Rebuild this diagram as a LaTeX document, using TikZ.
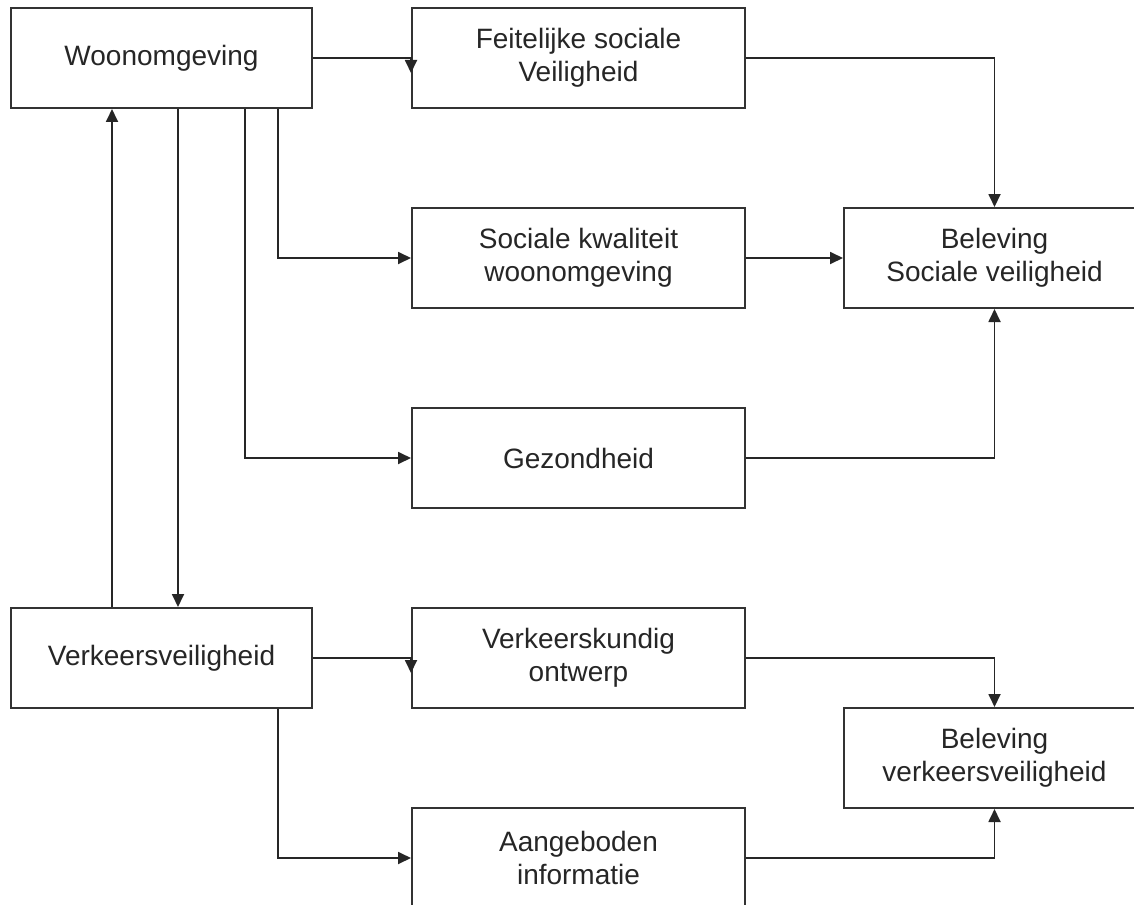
\documentclass[tikz,border=0pt]{standalone}
\usepackage{fontspec}
\setmainfont{Liberation Sans}
\usetikzlibrary{arrows.meta}
\begin{document}
\begin{tikzpicture}[x=1pt,y=-1pt,
  box/.style={draw=black!80, line width=2pt, text=black!85, align=center,
    inner sep=0pt, minimum height=100pt, font=\fontsize{28}{33}\selectfont},
  narrow/.style={box, minimum width=301pt},
  wide/.style={box, minimum width=333pt},
  conn/.style={draw=black!85, line width=1.8pt, -{Triangle[length=13pt,width=12pt]}}]
\clip (0,0) rectangle (1134,904);
\fill[white] (0,0) rectangle (1134,904);

\node[narrow] (wo) at (161.5,58) {Woonomgeving};
\node[wide] (feit) at (578.5,58) {Feitelijke sociale\\Veiligheid};
\node[wide] (soc) at (578.5,258) {Sociale kwaliteit\\woonomgeving};
\node[wide] (gez) at (578.5,458) {Gezondheid};
\node[narrow] (belS) at (994.5,258) {Beleving\\Sociale veiligheid};
\node[narrow] (verk) at (161.5,658) {Verkeersveiligheid};
\node[wide] (vkont) at (578.5,658) {Verkeerskundig\\ontwerp};
\node[narrow] (belV) at (994.5,758) {Beleving\\verkeersveiligheid};
\node[wide] (aang) at (578.5,858) {Aangeboden\\informatie};

% Woonomgeving -> Feitelijke (arrow drawn downwards at the edge)
\draw[conn] (wo.east) -- (wo.east -| feit.west) -- ++(0,15);
% Feitelijke -> Beleving Sociale
\draw[conn] (feit.east) -| (belS.north);
% Woonomgeving -> Sociale kwaliteit
\draw[conn] (wo.south -| 278,0) |- (soc.west);
% Sociale kwaliteit -> Beleving
\draw[conn] (soc.east) -- (belS.west);
% Woonomgeving -> Gezondheid
\draw[conn] (wo.south -| 245,0) |- (gez.west);
% Gezondheid -> Beleving
\draw[conn] (gez.east) -| (belS.south);
% Woonomgeving <-> Verkeersveiligheid
\draw[conn] (wo.south -| 178,0) -- (verk.north -| 178,0);
\draw[conn] (verk.north -| 112,0) -- (wo.south -| 112,0);
% Verkeersveiligheid -> Verkeerskundig ontwerp
\draw[conn] (verk.east) -- (verk.east -| vkont.west) -- ++(0,15);
% Verkeerskundig ontwerp -> Beleving verkeersveiligheid
\draw[conn] (vkont.east) -| (belV.north);
% Verkeersveiligheid -> Aangeboden informatie
\draw[conn] (verk.south -| 278,0) |- (aang.west);
% Aangeboden informatie -> Beleving verkeersveiligheid
\draw[conn] (aang.east) -| (belV.south);
\end{tikzpicture}
\end{document}
